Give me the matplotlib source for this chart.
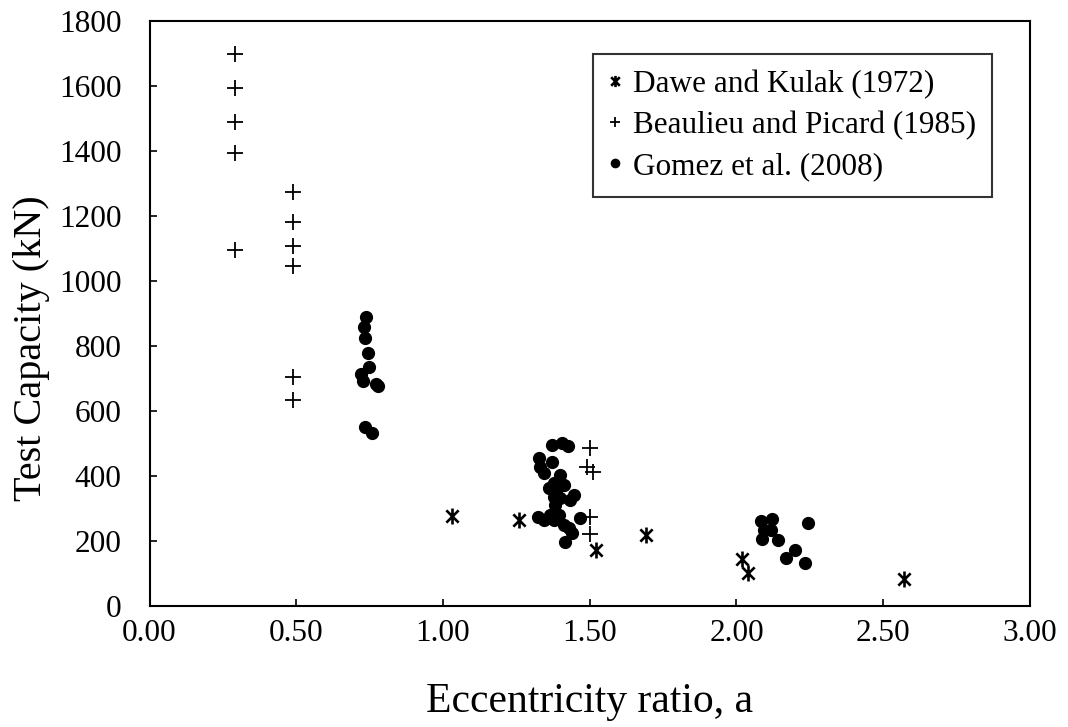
import numpy as np
import matplotlib.pyplot as plt
from matplotlib.path import Path

# Dawe and Kulak (1972)
dawe_x = [1.03, 1.26, 1.52, 1.69, 2.02, 2.04, 2.57]
dawe_y = [278, 265, 172, 218, 144, 102, 83]

# Beaulieu and Picard (1985)
beau_x = [0.29, 0.29, 0.29, 0.29, 0.29,
          0.49, 0.49, 0.49, 0.49, 0.49, 0.49,
          1.50, 1.49, 1.51, 1.50, 1.50]
beau_y = [1700, 1595, 1490, 1395, 1095,
          1275, 1182, 1109, 1046, 705, 634,
          485, 429, 412, 273, 222]

# Gomez et al. (2008)
gomez_x = [0.738, 0.732, 0.734, 0.745, 0.749, 0.721, 0.729, 0.773, 0.780, 0.733, 0.758,
           1.372, 1.406, 1.425, 1.326, 1.372, 1.332, 1.343, 1.400, 1.377, 1.360,
           1.411, 1.445, 1.434, 1.377, 1.400, 1.386, 1.383, 1.366, 1.343, 1.394,
           1.377, 1.411, 1.428, 1.440, 1.417, 1.466, 1.325,
           2.084, 2.122, 2.093, 2.116, 2.088, 2.141, 2.243, 2.198, 2.169, 2.235]
gomez_y = [890, 859, 826, 779, 736, 715, 692, 682, 677, 552, 531,
           495, 501, 492, 454, 444, 429, 408, 403, 378, 362,
           372, 342, 326, 336, 331, 357, 311, 280, 265, 280,
           265, 249, 239, 224, 198, 270, 274,
           262, 267, 234, 234, 205, 203, 254, 172, 147, 133]

plt.rcParams['font.family'] = ['Liberation Serif', 'DejaVu Serif']

# asterisk like the spreadsheet one: an x with a vertical bar
star = Path([(-1, -1), (1, 1), (-1, 1), (1, -1), (0, -1.3), (0, 1.3)],
            [Path.MOVETO, Path.LINETO, Path.MOVETO, Path.LINETO, Path.MOVETO, Path.LINETO])

fig = plt.figure(figsize=(10.68, 7.27), dpi=100)
ax = fig.add_axes([0.140, 0.1664, 0.8244, 0.8046])

ax.plot(dawe_x, dawe_y, linestyle='none', marker=star, ms=11.5, mew=1.9,
        color='black', label='Dawe and Kulak (1972)')
ax.plot(beau_x, beau_y, linestyle='none', marker='+', ms=11, mew=1.3,
        color='black', label='Beaulieu and Picard (1985)')
ax.plot(gomez_x, gomez_y, linestyle='none', marker='o', ms=8.5,
        color='black', label='Gomez et al. (2008)')

ax.set_xlim(0, 3)
ax.set_ylim(0, 1800)
ax.set_xticks(np.arange(0, 3.01, 0.5))
ax.set_xticklabels(['%.2f' % t for t in np.arange(0, 3.01, 0.5)])
ax.set_yticks(range(0, 1801, 200))
ax.tick_params(direction='in', length=5, width=1.2, labelsize=22.5)
ax.tick_params(axis='x', pad=9)
ax.tick_params(axis='y', pad=20)
for s in ax.spines.values():
    s.set_linewidth(1.5)

ax.set_xlabel('Eccentricity ratio, a', fontsize=30, labelpad=25)
ax.set_ylabel('Test Capacity (kN)', fontsize=29)
ax.yaxis.set_label_coords(-0.113, 0.44)

leg = ax.legend(loc='upper right', bbox_to_anchor=(0.957, 0.944), fontsize=22.5,
                frameon=True, fancybox=False, edgecolor='black', markerscale=0.7,
                handlelength=0.4, handletextpad=0.4, borderpad=0.5, labelspacing=0.39,
                borderaxespad=0)
leg.get_frame().set_linewidth(1.5)

fig.savefig('out.png', dpi=100)
